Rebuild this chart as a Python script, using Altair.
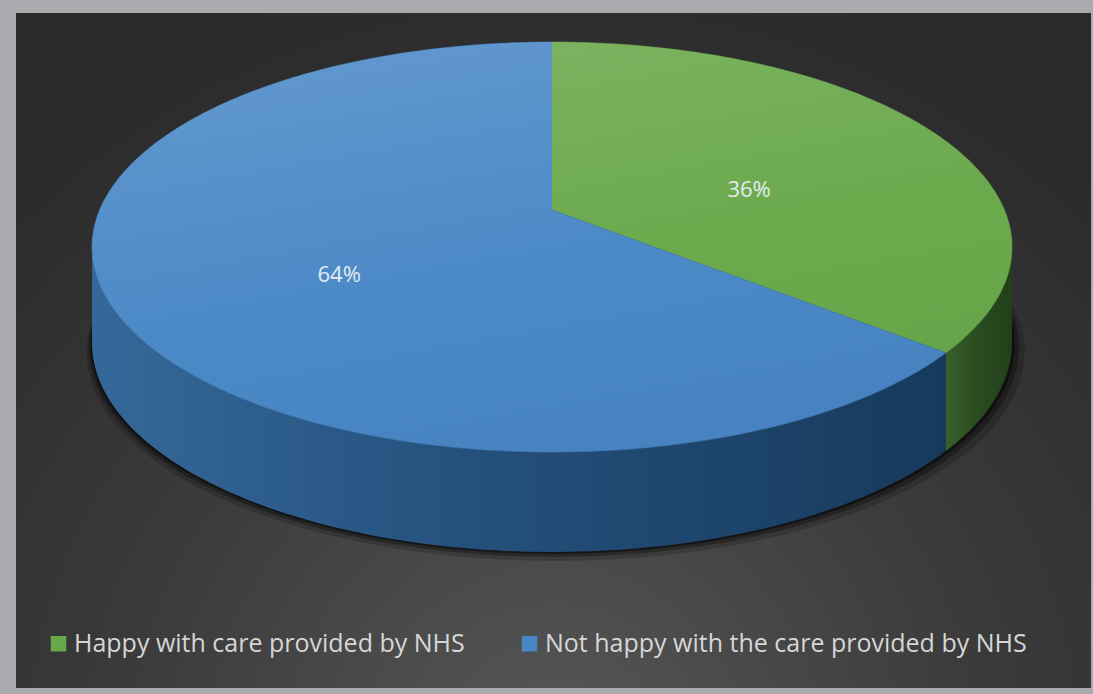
import math
import altair as alt
import pandas as pd

# ---- data ----
categories = ["Happy with care provided by NHS", "Not happy with the care provided by NHS"]
values = [36, 64]

# ---- style ----
top_colors = ["#69a84a", "#4887c6"]
wall_stops = [
    ["#37602a", "#2b4d21", "#223f1a"],
    ["#356899", "#24507c", "#173a5c"],
]

K = 0.1805          # perspective of the top face
KH = 0.05           # perspective of the wall height
H = 0.479           # wall thickness (normalised y units)
N = 120
TL = math.acos(-K)
TR = 2 * math.pi - TL

df = pd.DataFrame({"category": categories, "value": values, "idx": list(range(len(values)))})

xs = alt.Scale(domain=[-1, 1], range=[99.6, 1004.4])
ys = alt.Scale(domain=[-1, 1], range=[408.3, 11.7])
X = alt.X("u:Q", scale=xs, axis=None)
Y = alt.Y("v:Q", scale=ys, axis=None)

base = (
    alt.Chart(df)
    .transform_joinaggregate(total="sum(value)")
    .transform_window(cum="sum(value)", sort=[alt.SortField("idx")], frame=[None, 0])
    .transform_calculate(
        a0="2*PI*(datum.cum-datum.value)/datum.total",
        a1="2*PI*datum.cum/datum.total",
    )
)

# background panel
bg = alt.Chart(df).mark_rect(
    fill=alt.Gradient(
        gradient="radial", x1=0.5, y1=0.88, r1=0, x2=0.5, y2=0.88, r2=0.75,
        stops=[alt.GradientStop(color="#575757", offset=0),
               alt.GradientStop(color="#3a3a3a", offset=0.55),
               alt.GradientStop(color="#2a2a2a", offset=1)],
    )
).encode(x=alt.value(16), x2=alt.value(1091), y=alt.value(13), y2=alt.value(688))


def shadow(px, opacity):
    return (
        base.transform_filter("datum.idx == 0")
        .transform_calculate(step=f"sequence(0, {N + 1})")
        .transform_flatten(["step"])
        .transform_calculate(t=f"2*PI*datum.step/{N}")
        .transform_calculate(Xc="sin(datum.t)", Zc="cos(datum.t)")
        .transform_calculate(
            u=f"datum.Xc/(1+{K}*datum.Zc)*(1+{px}/452.4) + {px * 0.4}/452.4",
            v=f"datum.Zc/(1+{K}*datum.Zc) - {H}/(1+{KH}*datum.Zc) - {px}/198.3",
        )
        .mark_line(fill="#000000", fillOpacity=opacity, strokeOpacity=0)
        .encode(x=X, y=Y, order=alt.Order("step:Q"))
    )


def wall(i):
    s = wall_stops[i]
    return (
        base.transform_filter(f"datum.idx == {i}")
        .transform_calculate(ws=f"max(datum.a0, {TL})", we=f"min(datum.a1, {TR})")
        .transform_filter("datum.ws < datum.we")
        .transform_calculate(step=f"sequence(0, {2 * (N + 1)})")
        .transform_flatten(["step"])
        .transform_calculate(
            bot=f"datum.step > {N} ? 1 : 0",
            t=f"datum.step <= {N} ? datum.ws + (datum.we-datum.ws)*datum.step/{N} : datum.we - (datum.we-datum.ws)*(datum.step-{N + 1})/{N}",
        )
        .transform_calculate(Xc="sin(datum.t)", Zc="cos(datum.t)")
        .transform_calculate(
            u=f"datum.Xc/(1+{K}*datum.Zc)",
            v=f"datum.Zc/(1+{K}*datum.Zc) - datum.bot*{H}/(1+{KH}*datum.Zc)",
        )
        .mark_line(
            fill=alt.Gradient(
                gradient="linear", x1=1, y1=0.5, x2=0, y2=0.5,
                stops=[alt.GradientStop(color=s[2], offset=0),
                       alt.GradientStop(color=s[1], offset=0.55),
                       alt.GradientStop(color=s[0], offset=1)],
            ),
            strokeOpacity=0,
        )
        .encode(x=X, y=Y, order=alt.Order("step:Q"))
    )


color_scale = alt.Scale(domain=categories, range=top_colors)

top = (
    base.transform_calculate(step=f"sequence(-1, {N + 1})")
    .transform_flatten(["step"])
    .transform_calculate(
        t=f"datum.a0 + (datum.a1-datum.a0)*max(datum.step,0)/{N}",
        r="datum.step < 0 ? 0 : 1",
    )
    .transform_calculate(Xc="datum.r*sin(datum.t)", Zc="datum.r*cos(datum.t)")
    .transform_calculate(u=f"datum.Xc/(1+{K}*datum.Zc)", v=f"datum.Zc/(1+{K}*datum.Zc)")
    .mark_line(strokeWidth=0.6, strokeJoin="round")
    .encode(
        x=X, y=Y,
        order=alt.Order("step:Q"),
        detail="category:N",
        fill=alt.Fill(
            "category:N", scale=color_scale,
            legend=alt.Legend(
                orient="none", legendX=46, legendY=631, direction="horizontal",
                title=None, symbolType="square", symbolSize=240, symbolStrokeWidth=0,
                labelFontSize=25, labelColor="#d6d6d6", labelFont="Open Sans",
                labelLimit=0, columnPadding=52, symbolOpacity=1, labelOffset=3,
            ),
        ),
        stroke=alt.Stroke("category:N", scale=color_scale, legend=None),
    )
)

highlight = (
    base.transform_filter("datum.idx == 0")
    .transform_calculate(step=f"sequence(0, {N + 1})")
    .transform_flatten(["step"])
    .transform_calculate(t=f"2*PI*datum.step/{N}")
    .transform_calculate(Xc="sin(datum.t)", Zc="cos(datum.t)")
    .transform_calculate(u=f"datum.Xc/(1+{K}*datum.Zc)", v=f"datum.Zc/(1+{K}*datum.Zc)")
    .mark_line(
        fill=alt.Gradient(
            gradient="linear", x1=0.1, y1=0, x2=0.5, y2=1,
            stops=[alt.GradientStop(color="rgba(255,255,255,0.15)", offset=0),
                   alt.GradientStop(color="rgba(255,255,255,0.02)", offset=0.6),
                   alt.GradientStop(color="rgba(0,0,0,0.03)", offset=1)],
        ),
        strokeOpacity=0,
    )
    .encode(x=X, y=Y, order=alt.Order("step:Q"))
)

labels = (
    base.transform_calculate(
        tm="(datum.a0+datum.a1)/2",
        pct="format(datum.value/datum.total, '.0%')",
    )
    .transform_calculate(Xc="0.5*sin(datum.tm)", Zc="0.5*cos(datum.tm)")
    .transform_calculate(u=f"datum.Xc/(1+{K}*datum.Zc)", v=f"datum.Zc/(1+{K}*datum.Zc)")
    .mark_text(fontSize=22, font="Open Sans", color="#e4ecf2", dy=21)
    .encode(x=X, y=Y, text="pct:N")
)

chart = (
    alt.layer(bg, shadow(9, 0.18), shadow(5, 0.3), shadow(2, 0.45),
              wall(0), wall(1), top, highlight, labels)
    .properties(width=1093, height=694, background="#a9aaad", padding=0,
                autosize=alt.AutoSizeParams(type="none"))
    .configure_view(stroke=None)
)

chart.save("out.html", embed_options={"renderer": "svg", "actions": False})
